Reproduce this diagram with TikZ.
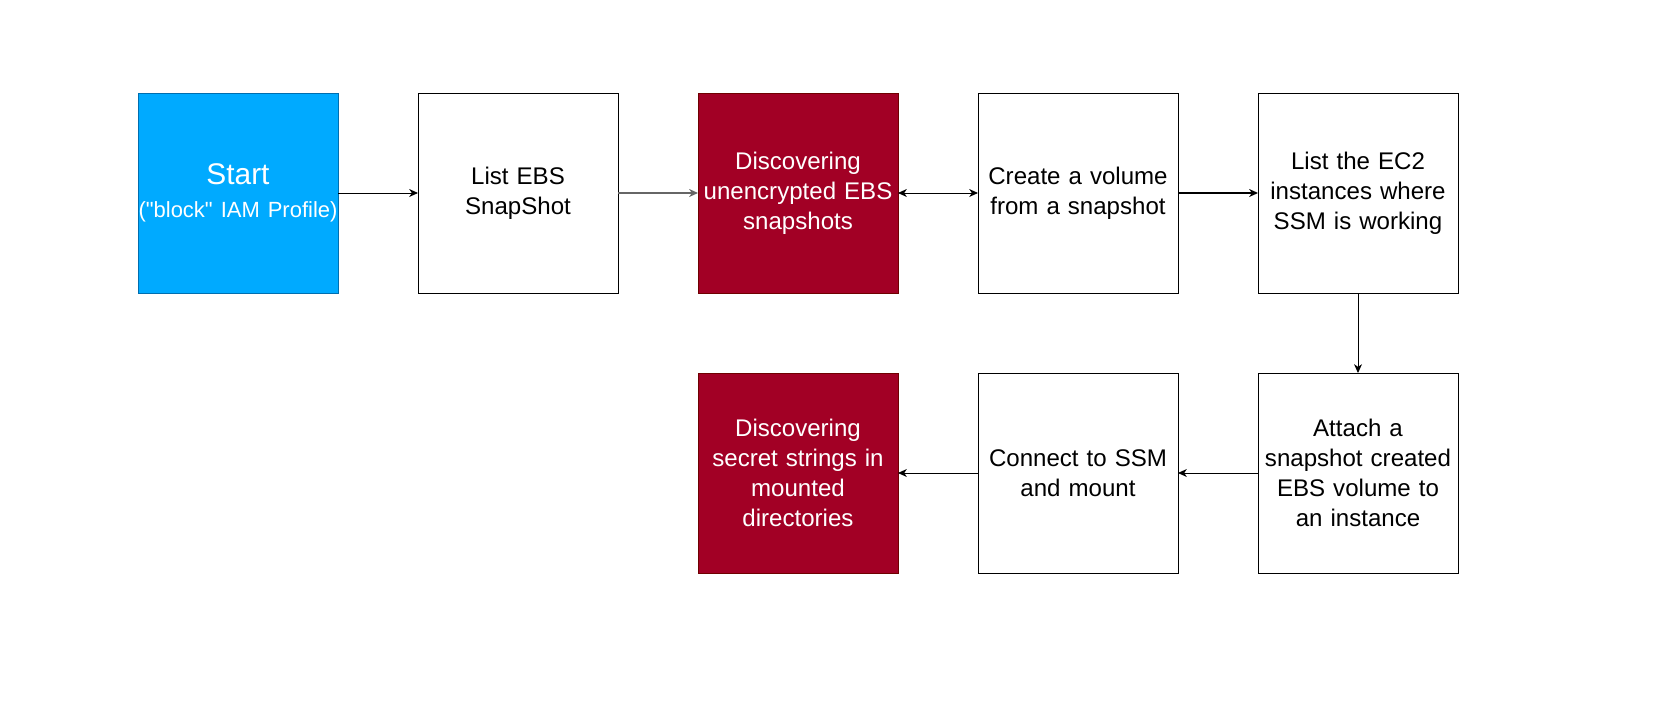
\documentclass[tikz,border=0pt]{standalone}
\usepackage{fontspec}
\setmainfont{Liberation Sans}
\newfontfamily\plainsans{Liberation Sans}
\usepackage{xcolor}
\usepackage{tikz}
\usetikzlibrary{arrows.meta}
\usetikzlibrary{positioning}
\definecolor{startblue}{HTML}{00AAFF}
\definecolor{startedge}{HTML}{006EAF}
\definecolor{alertred}{HTML}{A20025}
\definecolor{alertedge}{HTML}{6F0000}
\tikzset{
    boxnode/.style = {align=center, inner sep=0pt, outer sep=0pt, text centered, rectangle, minimum width=4cm, minimum height=4cm, text width=3.9cm, line width=0.5pt, font=\fontsize{13.7}{17}\selectfont},
    start_node/.style = {boxnode, white, draw=startedge, fill=startblue},
    step_node/.style = {boxnode, black, draw=black, fill=white},
    red_node/.style = {boxnode, white, draw=alertedge, fill=alertred},
    flow/.style = {->, line width=0.5pt}
}
\begin{document}
\begin{tikzpicture}[node distance=1.6cm, >={Stealth[length=5pt, width=4.5pt, inset=1.5pt]}]
    \useasboundingbox (0,0) rectangle (33.56,14.16);

    % first row
    \node [start_node] (start) at (4.76,10.3) {{\fontsize{17}{20}\selectfont Start}\\[2pt]\makebox[0pt]{\plainsans\fontsize{12.5}{15}\selectfont ("block" IAM Profile)}};
    \node [step_node, right=of start] (listebs) {List EBS\\SnapShot};
    \node [red_node, right=of listebs] (unenc) {Discovering\\unencrypted EBS\\snapshots};
    \node [step_node, right=of unenc] (volume) {Create a volume\\from a snapshot};
    \node [step_node, right=of volume] (listec2) {List the EC2\\instances where\\SSM is working};

    % second row
    \node [step_node, below=1.6cm of listec2] (attach) {Attach a\\snapshot created\\EBS volume to\\an instance};
    \node [step_node, left=of attach] (mount) {Connect to SSM\\and mount};
    \node [red_node, left=of mount] (secret) {Discovering\\secret strings in\\mounted\\directories};

    \draw [flow] (start) -- (listebs);
    \draw [flow, draw=black!60, line width=0.8pt] (listebs) -- (unenc);
    \draw [<->, line width=0.5pt] (unenc) -- (volume);
    \draw [flow, line width=0.9pt] (volume) -- (listec2);
    \draw [flow] (listec2) -- (attach);
    \draw [flow] (attach) -- (mount);
    \draw [flow] (mount) -- (secret);
\end{tikzpicture}
\end{document}
